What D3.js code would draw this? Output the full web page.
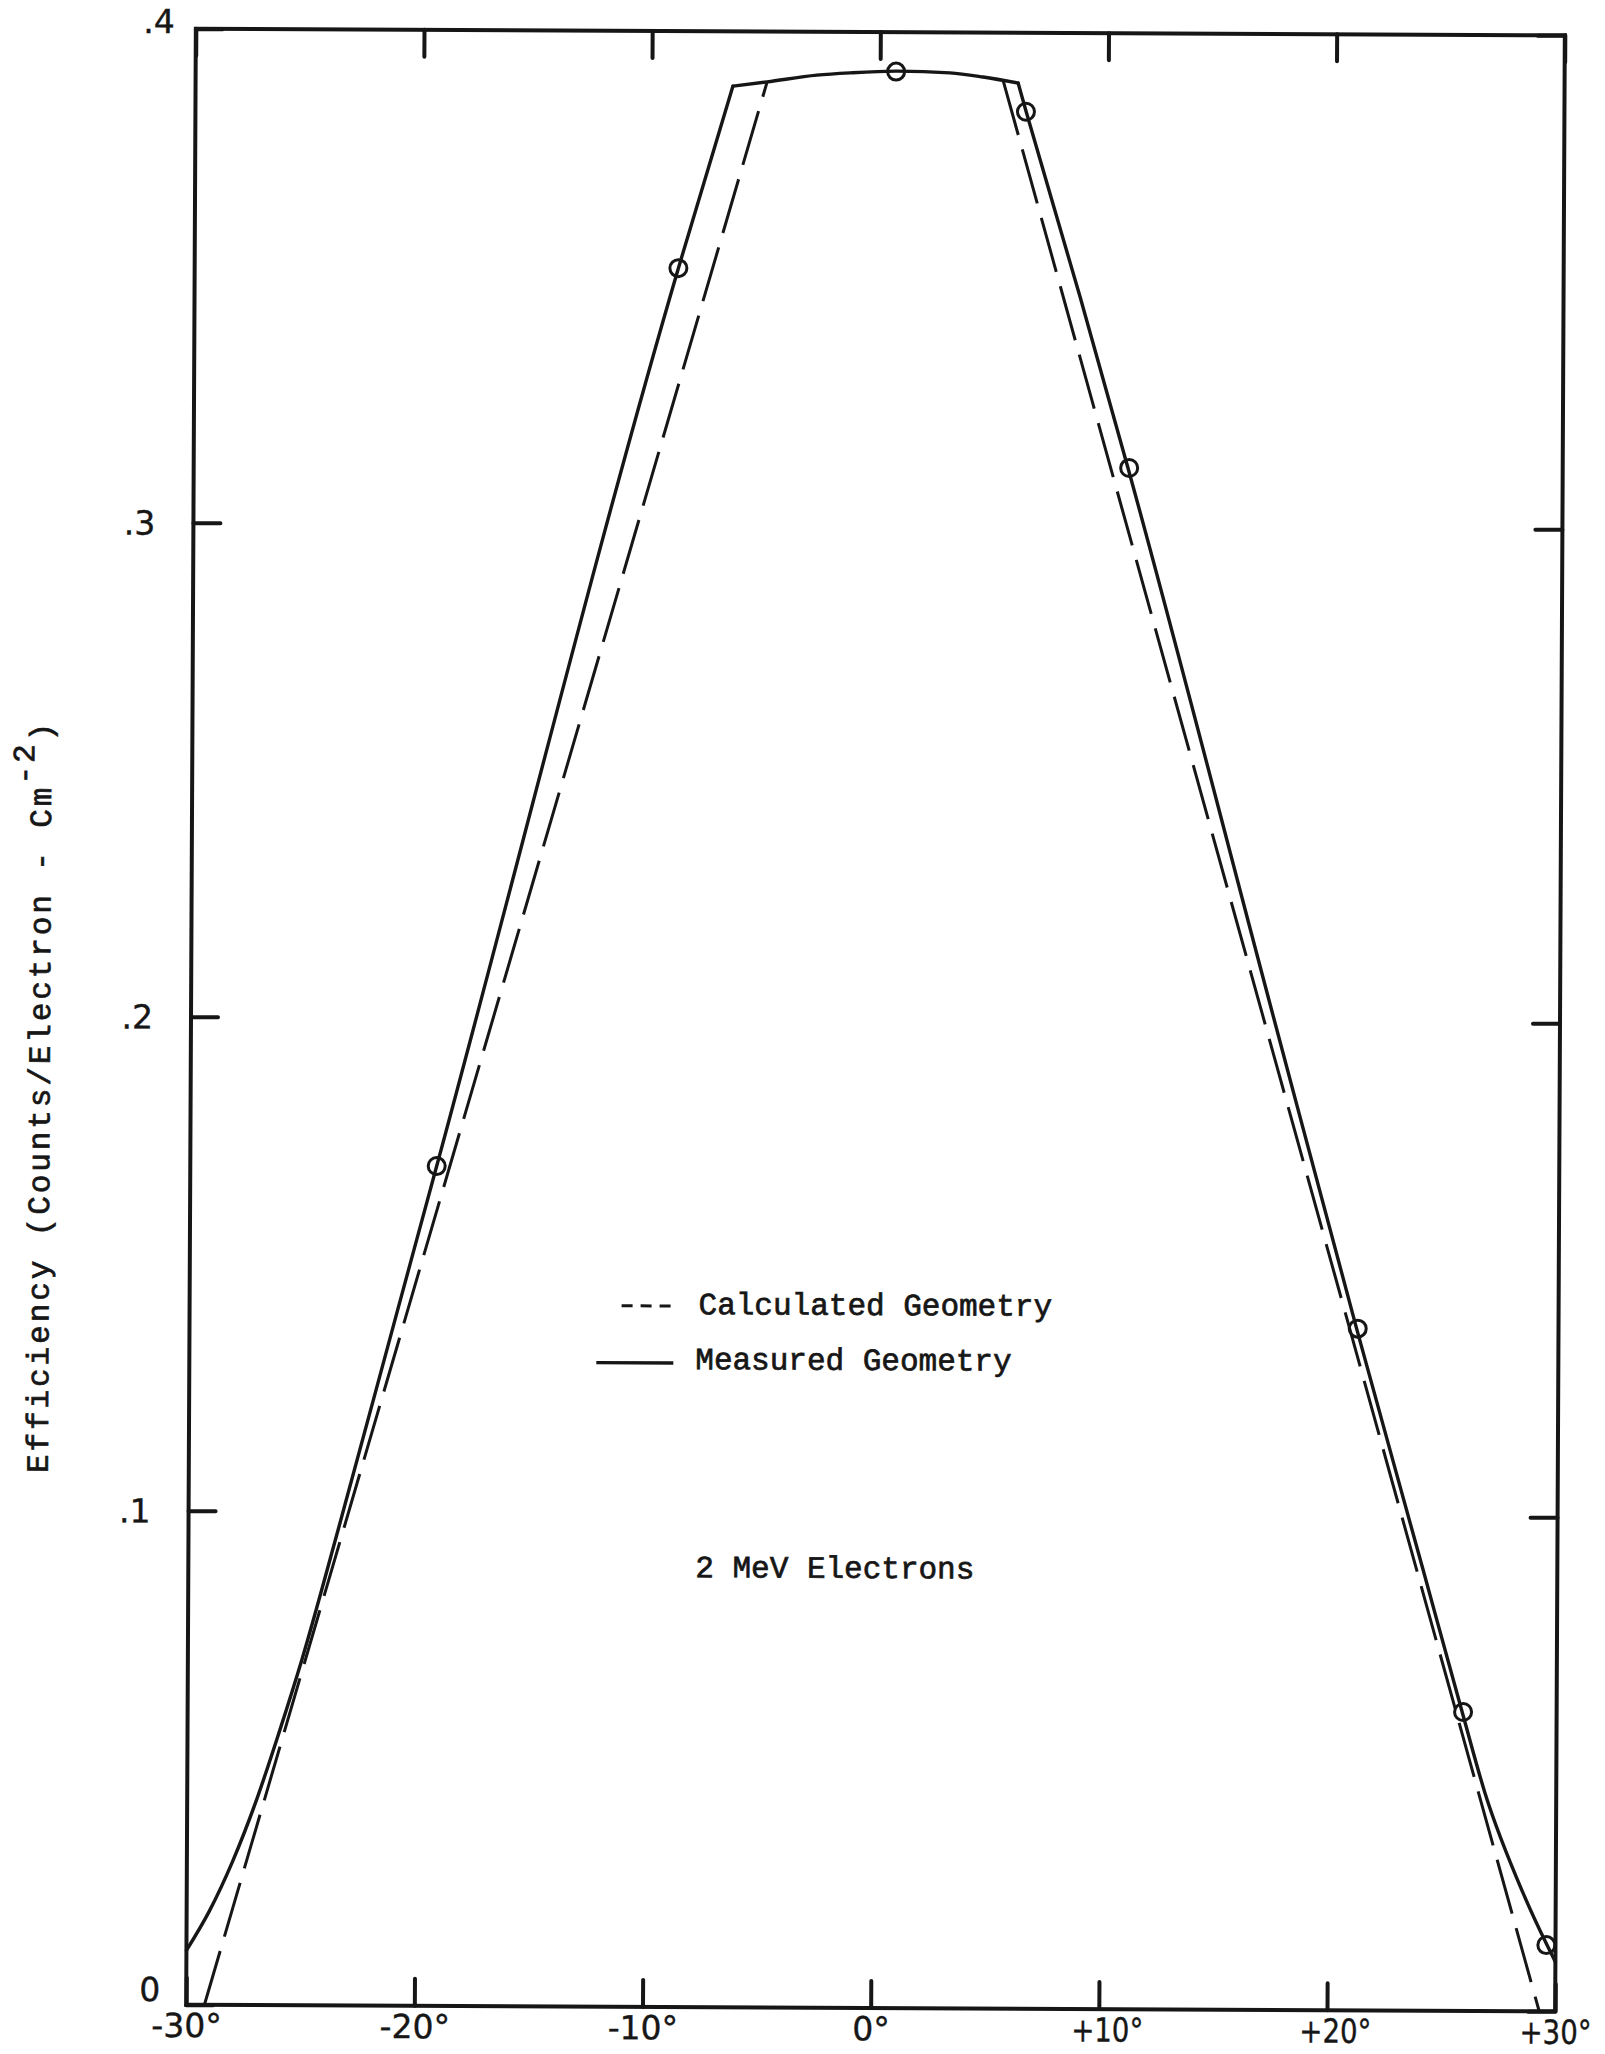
<!DOCTYPE html>
<html>
<head>
<meta charset="utf-8">
<script src="https://cdn.jsdelivr.net/npm/d3@7"></script>
<style>
  body { margin: 0; background: #fff; }
  .typed { font-family: "Liberation Mono", "DejaVu Sans Mono", monospace; font-size: 31px; fill: #161616; stroke: #161616; stroke-width: 0.7px; }
  .hand { font-family: "DejaVu Sans", sans-serif; font-size: 33px; fill: #161616; stroke: #161616; stroke-width: 0.4px; }
</style>
</head>
<body>
<script>
/* global d3 */

// axis ticks
var angleTicks = [-30, -20, -10, 0, 10, 20, 30];
var effTicks = [0, 0.1, 0.2, 0.3, 0.4];

// measured points (circles)
var pointAngle = [-19.2, -8.8, 0.7, 6.4, 11.0, 21.2, 25.9, 29.6];
var pointEff = [0.170, 0.352, 0.392, 0.384, 0.312, 0.138, 0.0605, 0.0134];

// measured geometry curve, split at the two corners of the top
var measLeftAngle = [-30, -29, -28, -27, -26, -25, -23.4, -20.9, -19.2, -8.8, -6.45];
var measLeftEff = [0.011, 0.019, 0.029, 0.041, 0.055, 0.070, 0.097, 0.1405, 0.170, 0.352, 0.3889];
var measTopAngle = [-6.45, -4.95, -2.77, -1.32, 0.74, 3.06, 4.51, 6.05];
var measTopEff = [0.3889, 0.3898, 0.3912, 0.3917, 0.3921, 0.3918, 0.3910, 0.3898];
var measRightAngle = [6.05, 6.41, 8.81, 10.96, 17.5, 21.17, 24.12, 25.86, 26.88, 28.57, 29.63, 30];
var measRightEff = [0.3898, 0.384, 0.3466, 0.3118, 0.2, 0.1377, 0.0892, 0.0605, 0.0441, 0.0239, 0.0134, 0.010];

// calculated geometry: two straight flanks that meet the top arc
var calcLeftAngle = [-29.2, -4.95];
var calcLeftEff = [0, 0.3898];
var calcRightAngle = [5.4, 29.3];
var calcRightEff = [0.3902, 0];

var W = 1605, H = 2054;
var frame = {left: 191, right: 1560, top: 32, bottom: 2008};
var ink = '#161616';

var svg = d3.select('body').append('svg')
  .attr('width', W)
  .attr('height', H)
  .attr('xmlns', 'http://www.w3.org/2000/svg');

svg.append('rect').attr('width', W).attr('height', H).style('fill', '#fff');

// the scanned sheet sits a little crooked
var g = svg.append('g').attr('transform', 'rotate(0.28,875,1020)');

var x = d3.scaleLinear().domain([-30, 30]).range([frame.left, frame.right]);
var y = d3.scaleLinear().domain([0, 0.4]).range([frame.bottom, frame.top]);

function fmtAngle(d) {
  return (d > 0 ? '+' : d < 0 ? '-' : '') + Math.abs(d) + '\u00b0';
}
function fmtEff(d) {
  return d === 0 ? '0' : '.' + Math.round(d * 10);
}

function styleAxis(sel) {
  sel.attr('font-size', null).attr('font-family', null);
  sel.select('.domain').remove();
  sel.selectAll('.tick line').style('stroke', ink).style('stroke-width', 4).style('stroke-linecap', 'round');
  sel.selectAll('.tick text').attr('class', 'hand').attr('fill', null);
}

// bottom axis with labels
g.append('g')
  .attr('transform', 'translate(0,' + frame.bottom + ')')
  .call(d3.axisBottom(x).tickValues(angleTicks).tickSizeInner(-27).tickSizeOuter(0).tickPadding(9).tickFormat(fmtAngle))
  .call(styleAxis)
  .selectAll('.tick text')
    .attr('dx', function(d){ return d === 30 ? 0 : d > 0 ? 8 : 0; })
    .attr('textLength', function(d){ return d > 0 ? 72 : null; })
    .attr('lengthAdjust', function(d){ return d > 0 ? 'spacingAndGlyphs' : null; });

// top axis, ticks only
g.append('g')
  .attr('transform', 'translate(0,' + frame.top + ')')
  .call(d3.axisTop(x).tickValues(angleTicks).tickSizeInner(-27).tickSizeOuter(0).tickFormat(''))
  .call(styleAxis);

// left axis with labels
g.append('g')
  .attr('transform', 'translate(' + frame.left + ',0)')
  .call(d3.axisLeft(y).tickValues(effTicks).tickSizeInner(-27).tickSizeOuter(0).tickPadding(38).tickFormat(fmtEff))
  .call(styleAxis)
  .selectAll('.tick text')
    .attr('dx', function(d){ return d === 0.4 ? 17 : d === 0 ? 12 : 0; })
    .attr('dy', function(d){ return d === 0.4 ? '0.12em' : d === 0 ? '-0.12em' : '0.35em'; });

// right axis, ticks only
g.append('g')
  .attr('transform', 'translate(' + frame.right + ',0)')
  .call(d3.axisRight(y).tickValues(effTicks).tickSizeInner(-27).tickSizeOuter(0).tickFormat(''))
  .call(styleAxis);

// frame
g.append('rect')
  .attr('x', frame.left)
  .attr('y', frame.top)
  .attr('width', frame.right - frame.left)
  .attr('height', frame.bottom - frame.top)
  .style('fill', 'none')
  .style('stroke', ink)
  .style('stroke-width', 4);

var line = d3.line()
  .x(function(d){ return x(d[0]); })
  .y(function(d){ return y(d[1]); })
  .curve(d3.curveMonotoneX);

// calculated geometry (dashed)
[[calcLeftAngle, calcLeftEff], [calcRightAngle, calcRightEff]].forEach(function(s){
  g.append('path')
    .datum(d3.zip(s[0], s[1]))
    .attr('d', line)
    .style('fill', 'none')
    .style('stroke', ink)
    .style('stroke-width', 3)
    .style('stroke-dasharray', '56,15');
});

// measured geometry (solid)
[[measLeftAngle, measLeftEff], [measTopAngle, measTopEff], [measRightAngle, measRightEff]].forEach(function(s){
  g.append('path')
    .datum(d3.zip(s[0], s[1]))
    .attr('d', line)
    .style('fill', 'none')
    .style('stroke', ink)
    .style('stroke-width', 3.4)
    .style('stroke-linecap', 'round')
    .style('stroke-linejoin', 'round');
});

// data points
g.append('g').selectAll('circle')
  .data(d3.zip(pointAngle, pointEff))
  .enter()
  .append('circle')
    .attr('cx', function(d){ return x(d[0]); })
    .attr('cy', function(d){ return y(d[1]); })
    .attr('r', 8.5)
    .style('fill', 'none')
    .style('stroke', ink)
    .style('stroke-width', 3);

// legend
g.append('line')
  .attr('x1', 623).attr('x2', 673).attr('y1', 1307).attr('y2', 1307)
  .style('stroke', ink).style('stroke-width', 3).style('stroke-dasharray', '11,8');
g.append('text').attr('class', 'typed').attr('x', 700).attr('y', 1315).text('Calculated Geometry');

g.append('line')
  .attr('x1', 598).attr('x2', 675).attr('y1', 1364).attr('y2', 1364)
  .style('stroke', ink).style('stroke-width', 3.4);
g.append('text').attr('class', 'typed').attr('x', 697).attr('y', 1370).text('Measured Geometry');

g.append('text').attr('class', 'typed').attr('x', 698).attr('y', 1578).text('2 MeV Electrons');

// y axis title
var title = g.append('text')
  .attr('class', 'typed')
  .attr('transform', 'translate(50,1102) rotate(-90)')
  .attr('text-anchor', 'middle')
  .attr('textLength', 750)
  .attr('lengthAdjust', 'spacing');
title.append('tspan').text('Efficiency (Counts/Electron - Cm');
title.append('tspan').attr('dy', '-0.55em').text('-2');
title.append('tspan').attr('dy', '0.55em').text(')');
</script>
</body>
</html>
